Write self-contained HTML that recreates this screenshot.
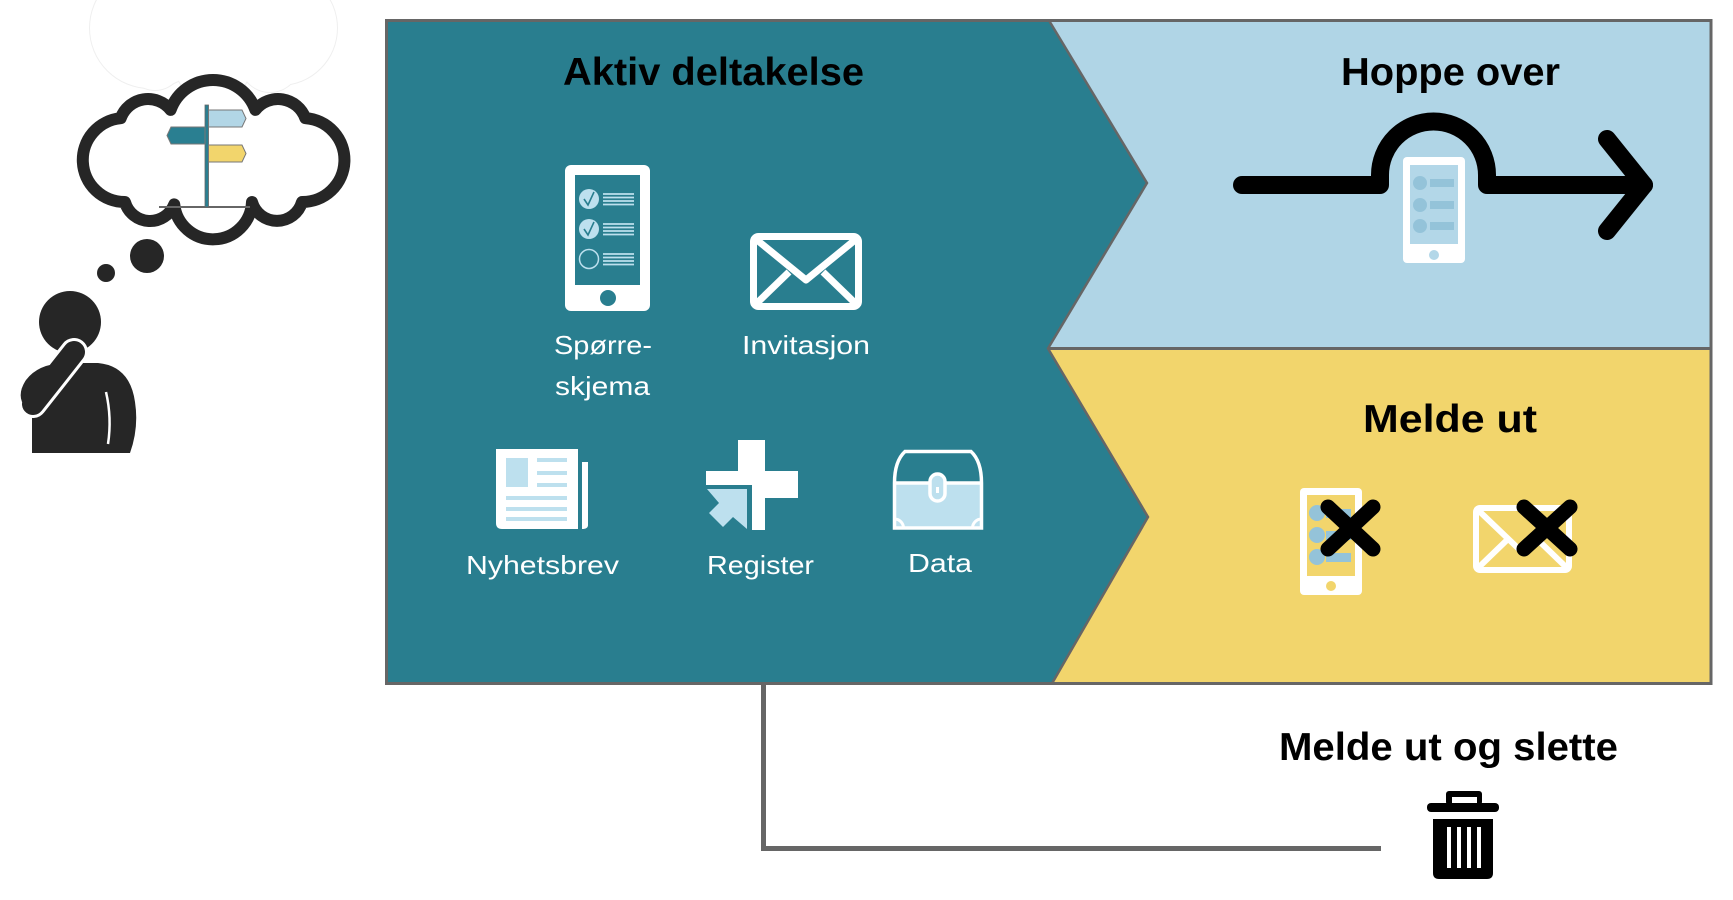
<!DOCTYPE html>
<html><head><meta charset="utf-8"><style>
html,body{margin:0;padding:0;background:#fff;}
svg{display:block;}
text{font-family:"Liberation Sans",sans-serif;}
</style></head><body>
<svg width="1733" height="900" viewBox="0 0 1733 900" xmlns="http://www.w3.org/2000/svg">
<!-- faint cloud -->
<g fill="#efefef">
<circle cx="150" cy="28" r="61"/><circle cx="213" cy="18" r="71"/><circle cx="280" cy="28" r="58"/>
<circle cx="155" cy="62" r="29"/><circle cx="270" cy="62" r="31"/><circle cx="213" cy="62" r="40"/>
</g>
<g fill="#fff">
<circle cx="150" cy="28" r="60"/><circle cx="213" cy="18" r="70"/><circle cx="280" cy="28" r="57"/>
<circle cx="155" cy="62" r="28"/><circle cx="270" cy="62" r="30"/><circle cx="213" cy="62" r="39"/>
</g>
<!-- thought cloud -->
<path d="M170.6,109.9 A45,45 0 0 1 255.4,109.9 A29,29 0 0 1 305.3,118.1 A42,42 0 0 1 302,202 A26,26 0 0 1 252,202 A39,39 0 0 1 174.25,204.4 A26,26 0 0 1 124.96,202 A42,42 0 0 1 120.7,118.2 A29,29 0 0 1 170.6,109.9 Z" fill="#fff" stroke="#262626" stroke-width="12" stroke-linejoin="round"/>
<!-- signpost -->
<line x1="159" y1="207" x2="250" y2="207" stroke="#666" stroke-width="2"/>
<rect x="205" y="105" width="3.5" height="102" fill="#2a7f91" stroke="#666" stroke-width="0.8"/>
<polygon points="208.5,110 242,110 246,118.5 242,127 208.5,127" fill="#b2d6e6" stroke="#777" stroke-width="1"/>
<polygon points="205,127 171,127 167,135.5 171,144 205,144" fill="#2a7f91" stroke="#777" stroke-width="1"/>
<polygon points="208.5,145 242,145 246,153.5 242,162 208.5,162" fill="#f2d56c" stroke="#777" stroke-width="1"/>
<!-- thought dots -->
<circle cx="147" cy="256" r="17" fill="#262626"/>
<circle cx="106" cy="273" r="9" fill="#262626"/>
<!-- person -->
<circle cx="70" cy="322" r="31" fill="#262626"/>
<path d="M32,453 L32,398 Q32,363 62,363 L98,363 Q130,366 135,402 Q139,428 130,453 Z" fill="#262626"/>
<path d="M74,352 L33,404" stroke="#fff" stroke-width="28" stroke-linecap="round" fill="none"/>
<path d="M64,363 Q38,364 26,380 Q18,392 22,402 L40,398 L66,366 Z" fill="#262626"/>
<path d="M74,352 L33,404" stroke="#262626" stroke-width="22" stroke-linecap="round" fill="none"/>
<path d="M106,392 Q112,418 108,444" stroke="#fff" stroke-width="2.5" fill="none"/>

<!-- main regions -->
<rect x="386.5" y="20.5" width="1324.5" height="663" fill="#b0d5e6"/>
<polygon points="1048,348.5 1711,348.5 1711,683.5 1052,683.5 1148,517" fill="#f2d56c"/>
<polygon points="386.5,20.5 1049,20.5 1147,183 1048,348.5 1148,517 1052,683.5 386.5,683.5" fill="#297e8f"/>
<polyline points="1049,20.5 1147,183 1048,348.5 1148,517 1052,683.5" fill="none" stroke="#666" stroke-width="2.5"/>
<line x1="1048" y1="348.5" x2="1711" y2="348.5" stroke="#666" stroke-width="3"/>
<rect x="386.5" y="20.5" width="1324.5" height="663" fill="none" stroke="#666" stroke-width="3"/>

<!-- headings -->
<text x="563" y="85" font-size="39" font-weight="bold" fill="#000" textLength="301" lengthAdjust="spacingAndGlyphs">Aktiv deltakelse</text>
<text x="1341" y="85" font-size="39" font-weight="bold" fill="#000" textLength="219" lengthAdjust="spacingAndGlyphs">Hoppe over</text>
<text x="1363" y="432" font-size="39" font-weight="bold" fill="#000" textLength="174" lengthAdjust="spacingAndGlyphs">Melde ut</text>
<text x="1279" y="760" font-size="39" font-weight="bold" fill="#000" textLength="339" lengthAdjust="spacingAndGlyphs">Melde ut og slette</text>

<!-- survey phone -->
<rect x="565" y="165" width="85" height="146" rx="6" fill="#fff"/>
<rect x="575" y="175" width="65" height="110" fill="#297e8f"/>
<circle cx="608" cy="298" r="8" fill="#297e8f"/>
<circle cx="589" cy="199" r="10" fill="#bde0ee"/>
<circle cx="589" cy="229" r="10" fill="#bde0ee"/>
<circle cx="589" cy="259" r="9.5" fill="none" stroke="#bde0ee" stroke-width="1.5"/>
<path d="M584,199 L588,205 L594,192 M584,229 L588,235 L594,222" stroke="#297e8f" stroke-width="1.6" fill="none"/>
<g stroke="#bde0ee" stroke-width="1.8">
<line x1="603" y1="194" x2="634" y2="194"/><line x1="603" y1="197.5" x2="634" y2="197.5"/><line x1="603" y1="201" x2="634" y2="201"/><line x1="603" y1="204.5" x2="634" y2="204.5"/>
<line x1="603" y1="224" x2="634" y2="224"/><line x1="603" y1="227.5" x2="634" y2="227.5"/><line x1="603" y1="231" x2="634" y2="231"/><line x1="603" y1="234.5" x2="634" y2="234.5"/>
<line x1="603" y1="254" x2="634" y2="254"/><line x1="603" y1="257.5" x2="634" y2="257.5"/><line x1="603" y1="261" x2="634" y2="261"/><line x1="603" y1="264.5" x2="634" y2="264.5"/>
</g>
<!-- envelope -->
<rect x="753.5" y="236.5" width="105" height="70" rx="5" fill="none" stroke="#fff" stroke-width="7"/>
<polyline points="757,240 806,280 855,240" fill="none" stroke="#fff" stroke-width="7" stroke-linejoin="round"/>
<line x1="757" y1="303" x2="789" y2="272" stroke="#fff" stroke-width="7"/>
<line x1="855" y1="303" x2="823" y2="272" stroke="#fff" stroke-width="7"/>

<g fill="#fff" font-size="26">
<text x="554" y="354" textLength="98" lengthAdjust="spacingAndGlyphs">Spørre-</text>
<text x="555" y="395" textLength="95" lengthAdjust="spacingAndGlyphs">skjema</text>
<text x="742" y="354" textLength="128" lengthAdjust="spacingAndGlyphs">Invitasjon</text>
<text x="466" y="574" textLength="153" lengthAdjust="spacingAndGlyphs">Nyhetsbrev</text>
<text x="707" y="574" textLength="107" lengthAdjust="spacingAndGlyphs">Register</text>
<text x="908" y="572" textLength="64" lengthAdjust="spacingAndGlyphs">Data</text>
</g>

<!-- newspaper -->
<path d="M496,449 H578 V529 H502 Q496,529 496,523 Z" fill="#fff"/>
<path d="M582,462 H588 V525 Q588,529 582,529 Z" fill="#fff"/>
<g fill="#bde0ee">
<rect x="506" y="458" width="22" height="29"/>
<rect x="537" y="458" width="30" height="4"/><rect x="537" y="471" width="30" height="4"/><rect x="537" y="483" width="30" height="4"/>
<rect x="506" y="496" width="61" height="4"/><rect x="506" y="507" width="61" height="4"/><rect x="506" y="517" width="61" height="4"/>
</g>
<!-- register -->
<g fill="#fff">
<rect x="738" y="440" width="27" height="45"/>
<rect x="706" y="471" width="92" height="14"/>
<rect x="765" y="471" width="33" height="27"/>
<rect x="752" y="485" width="13" height="45"/>
</g>
<polygon points="707,489 747,489 747,529 733,517 723,527 709,513 719,503" fill="#bde0ee"/>
<!-- data chest -->
<rect x="893" y="483" width="90" height="45" fill="#bde0ee"/>
<path d="M894.5,528 V483 C894.5,466 899,457 905,451.5 H971 C977,457 981.5,466 981.5,483 V528 Z" fill="none" stroke="#fff" stroke-width="3.5"/>
<line x1="893" y1="483" x2="983" y2="483" stroke="#fff" stroke-width="3.5"/>
<line x1="893" y1="528" x2="983" y2="528" stroke="#fff" stroke-width="3"/>
<path d="M894.5,519 A9,9 0 0 1 903.5,528 M981.5,519 A9,9 0 0 0 972.5,528" fill="none" stroke="#fff" stroke-width="3"/>
<rect x="930" y="474" width="15" height="27" rx="7.5" fill="#bde0ee" stroke="#fff" stroke-width="3.5"/>
<rect x="936" y="487" width="3" height="6" fill="#fff"/>

<!-- hoppe over phone + arrow -->
<rect x="1403" y="157" width="62" height="106" rx="4" fill="#fff"/>
<rect x="1410" y="165" width="48" height="79" fill="#b3d7e8"/>
<g fill="#94c3d9">
<circle cx="1420" cy="183" r="7"/><circle cx="1420" cy="205" r="7"/><circle cx="1420" cy="226" r="7"/>
<rect x="1430" y="179" width="24" height="8"/><rect x="1430" y="201" width="24" height="8"/><rect x="1430" y="222" width="24" height="8"/>
</g>
<circle cx="1434" cy="255" r="5" fill="#b3d7e8"/>
<path d="M1242,185 H1380 V175 A53.5,53.5 0 0 1 1487,175 V185 H1644" fill="none" stroke="#000" stroke-width="18" stroke-linecap="round" stroke-linejoin="round"/>
<path d="M1607,139 L1644,185 L1607,231" fill="none" stroke="#000" stroke-width="18" stroke-linecap="round" stroke-linejoin="round"/>

<!-- melde ut phone -->
<rect x="1300" y="488" width="62" height="107" rx="4" fill="#fff"/>
<rect x="1307" y="495" width="48" height="81" fill="#f2d56c"/>
<g fill="#94c3d9">
<circle cx="1317" cy="513" r="8"/><circle cx="1317" cy="535" r="8"/><circle cx="1317" cy="557" r="8"/>
<rect x="1326" y="509" width="25" height="9"/><rect x="1326" y="531" width="25" height="9"/><rect x="1326" y="553" width="25" height="9"/>
</g>
<circle cx="1331" cy="586" r="5" fill="#f2d56c"/>
<!-- melde ut envelope -->
<rect x="1476" y="508" width="93" height="62" rx="4" fill="none" stroke="#fff" stroke-width="6"/>
<polyline points="1478,510 1522,552 1567,510" fill="none" stroke="#fff" stroke-width="6"/>
<line x1="1478" y1="568" x2="1507" y2="540" stroke="#fff" stroke-width="6"/>
<line x1="1567" y1="568" x2="1538" y2="540" stroke="#fff" stroke-width="6"/>
<!-- X marks -->
<g stroke="#000" stroke-width="15" stroke-linecap="round">
<line x1="1328" y1="507" x2="1373" y2="549"/><line x1="1373" y1="507" x2="1328" y2="549"/>
<line x1="1524" y1="507" x2="1570" y2="549"/><line x1="1570" y1="507" x2="1524" y2="549"/>
</g>

<!-- connector -->
<polyline points="763.5,685 763.5,848.5 1381,848.5" fill="none" stroke="#666" stroke-width="5"/>

<!-- trash -->
<rect x="1446" y="791" width="36" height="14" rx="3" fill="#000"/>
<rect x="1452" y="797" width="25" height="8" fill="#fff"/>
<rect x="1427" y="803" width="72" height="9" rx="4" fill="#000"/>
<path d="M1433,819 H1493 V873 Q1493,879 1487,879 H1439 Q1433,879 1433,873 Z" fill="#000"/>
<g fill="#fff">
<rect x="1447" y="827" width="4" height="41"/><rect x="1457" y="827" width="4" height="41"/>
<rect x="1467" y="827" width="4" height="41"/><rect x="1477" y="827" width="4" height="41"/>
</g>
</svg>
</body></html>
